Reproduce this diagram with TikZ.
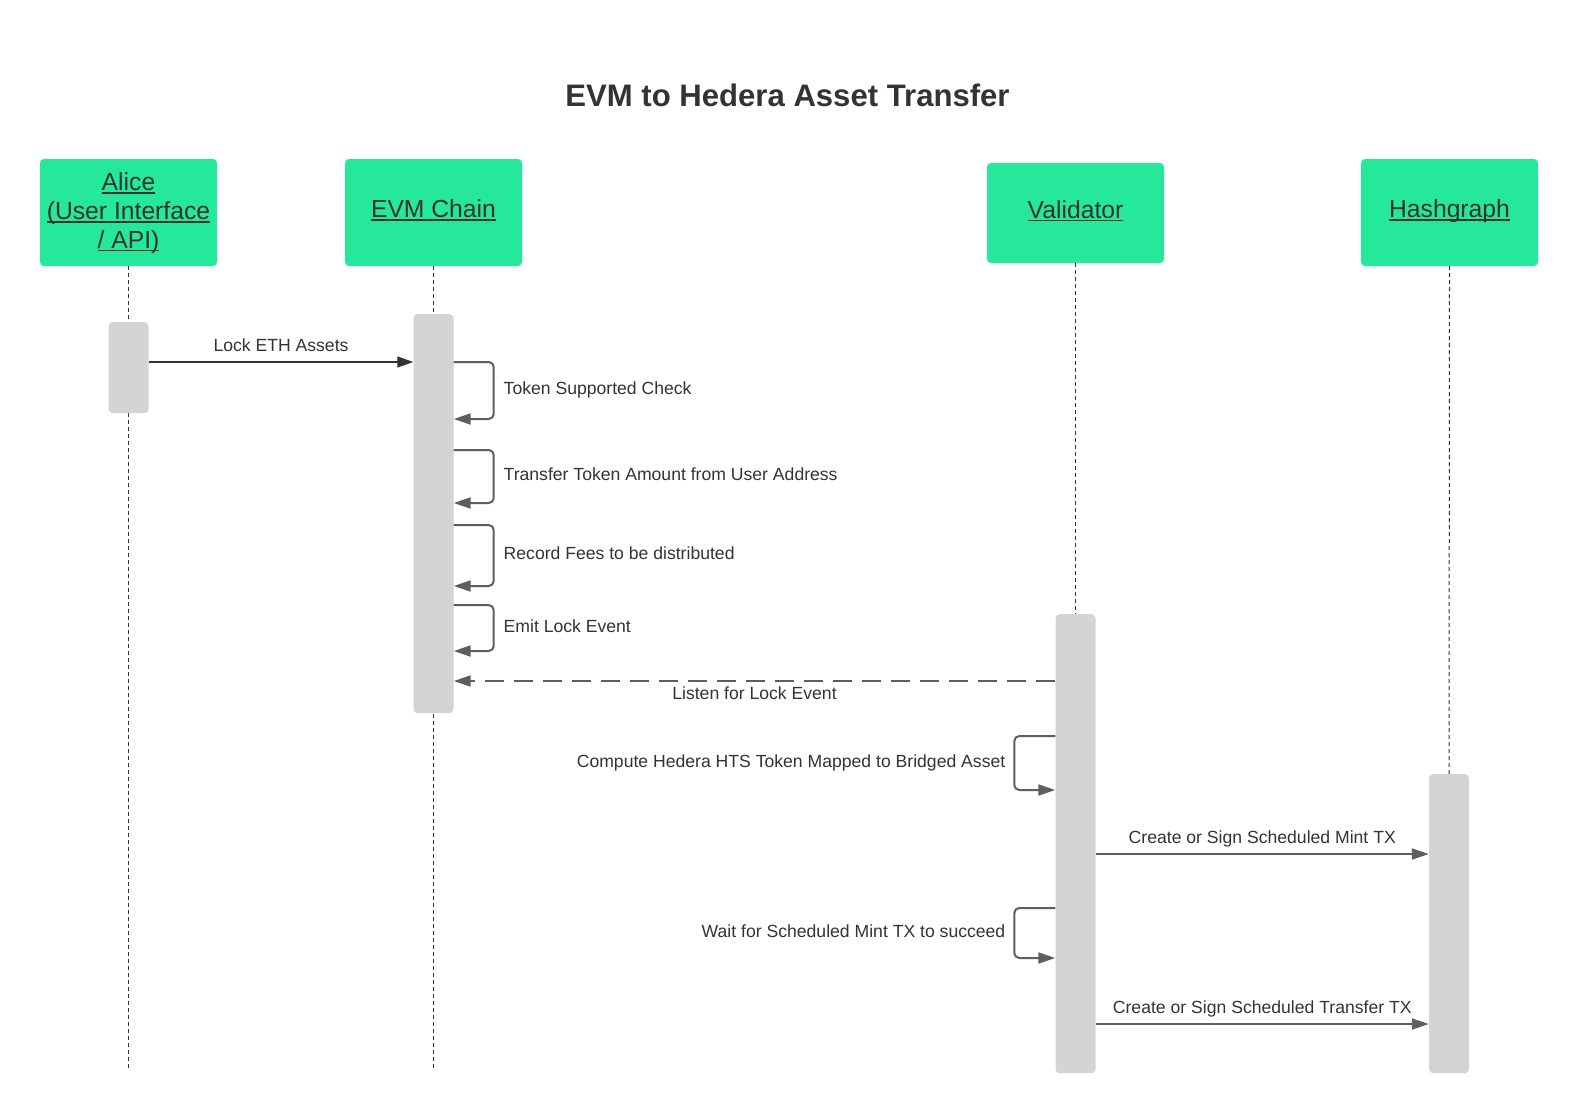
\documentclass[tikz,border=0pt]{standalone}
\usepackage{fontspec}
\setmainfont{Liberation Sans}
\usetikzlibrary{arrows.meta}
\definecolor{boxgreen}{RGB}{38,232,155}
\definecolor{txt}{RGB}{51,51,51}
\definecolor{actgray}{RGB}{212,212,212}
\definecolor{arrgray}{RGB}{94,94,94}
\newcommand\uln[1]{\setbox0=\hbox{#1}\rlap{\rule[-3pt]{\wd0}{1.6pt}}\box0}
\begin{document}
\begin{tikzpicture}[x=1pt,y=-1pt,
  participant/.style={fill=boxgreen, rounded corners=4pt, minimum width=177pt, inner sep=0pt, draw=none},
  ptext/.style={text=txt, font=\fontsize{24.7}{28.7}\selectfont, inner sep=0pt, align=center},
  activation/.style={fill=actgray, rounded corners=4pt, minimum width=40pt, anchor=north, inner sep=0pt},
  lifeline/.style={draw=txt, line width=1pt, dash pattern=on 4pt off 3pt},
  msgdark/.style={draw=txt, line width=1.3pt, -{Triangle[length=16pt,width=11pt]}},
  msggray/.style={draw=arrgray, line width=2pt, -{Triangle[length=17pt,width=11pt]}},
  selfloop/.style={draw=arrgray, line width=2pt, rounded corners=5pt, -{Triangle[length=17pt,width=11pt]}},
  replymsg/.style={draw=arrgray, line width=2pt, dash pattern=on 19pt off 10pt, -{Triangle[length=17pt,width=11pt]}},
  lbl/.style={text=txt, font=\fontsize{17.6}{20}\selectfont, inner sep=0pt},
  titlestyle/.style={text=txt, font=\fontsize{31.1}{34}\selectfont\bfseries, inner sep=0pt}
]
\useasboundingbox (0,0) rectangle (1578,1114);

% title
\node[titlestyle, anchor=base] (title) at (787.5,106) {EVM to Hedera Asset Transfer};

% participants
\node[participant, minimum height=107pt] (alice) at (128.5,212.5) {};
\node[participant, minimum height=107pt] (evm) at (433.5,212.5) {};
\node[participant, minimum height=100pt] (val) at (1075.5,213) {};
\node[participant, minimum height=107pt] (hash) at (1449.5,212.5) {};

\node[ptext, anchor=north] (alicet) at (128.5,172.8) {\uln{Alice}\\\uln{(User Interface}\\\uln{/ API)}};
\node[ptext, anchor=base] (evmt) at (433.5,217.7) {\uln{EVM Chain}};
\node[ptext, anchor=base] (valt) at (1075.5,218.2) {\uln{Validator}};
\node[ptext, anchor=base] (hasht) at (1449.5,217.7) {\uln{Hashgraph}};

% lifeline ends
\coordinate (aliceend) at (128.5,1070);
\coordinate (evmend) at (433.5,1070);

% activation positions
\path (128.5,322) coordinate (aliceacttop);
\path (433.5,314) coordinate (evmacttop);
\path (1075.5,614) coordinate (valacttop);
\path (1449,774) coordinate (hashacttop);

% lifelines
\draw[lifeline] (alice.south) -- (aliceend);
\draw[lifeline] (evm.south) -- (evmend);
\draw[lifeline] (val.south) -- (valacttop);
\draw[lifeline] (hash.south) -- (hashacttop);

% activation bars
\node[activation, minimum height=91pt] (aliceact) at (aliceacttop) {};
\node[activation, minimum height=399pt] (evmact) at (evmacttop) {};
\node[activation, minimum height=459pt] (valact) at (valacttop) {};
\node[activation, minimum height=299pt] (hashact) at (hashacttop) {};

% messages
\draw[msgdark] (aliceact.east |- 0,362) -- (evmact.west |- 0,362)
  node[lbl, midway, anchor=base, yshift=11pt] {Lock ETH Assets};

\draw[selfloop] (evmact.east |- 0,362) -- ++(40,0) -- ++(0,57)
  node[lbl, midway, anchor=base west, xshift=9pt, yshift=-4pt] {Token Supported Check}
  -- (evmact.east |- 0,419);
\draw[selfloop] (evmact.east |- 0,450) -- ++(40,0) -- ++(0,53)
  node[lbl, midway, anchor=base west, xshift=9pt, yshift=-4pt] {Transfer Token Amount from User Address}
  -- (evmact.east |- 0,503);
\draw[selfloop] (evmact.east |- 0,525) -- ++(40,0) -- ++(0,61)
  node[lbl, midway, anchor=base west, xshift=9pt, yshift=-4pt] {Record Fees to be distributed}
  -- (evmact.east |- 0,586);
\draw[selfloop] (evmact.east |- 0,605) -- ++(40,0) -- ++(0,46)
  node[lbl, midway, anchor=base west, xshift=9pt, yshift=-4pt] {Emit Lock Event}
  -- (evmact.east |- 0,651);

\draw[replymsg] (valact.west |- 0,681) -- (evmact.east |- 0,681)
  node[lbl, midway, anchor=base, yshift=-18pt] {Listen for Lock Event};

\draw[selfloop] (valact.west |- 0,736) -- ++(-41,0) -- ++(0,54)
  node[lbl, midway, anchor=base east, xshift=-8pt, yshift=-4pt] {Compute Hedera HTS Token Mapped to Bridged Asset}
  -- (valact.west |- 0,790);

\draw[msggray] (valact.east |- 0,854) -- (hashact.west |- 0,854)
  node[lbl, midway, anchor=base, yshift=11pt] {Create or Sign Scheduled Mint TX};

\draw[selfloop] (valact.west |- 0,908) -- ++(-41,0) -- ++(0,50)
  node[lbl, midway, anchor=base east, xshift=-8pt, yshift=-4pt] {Wait for Scheduled Mint TX to succeed}
  -- (valact.west |- 0,958);

\draw[msggray] (valact.east |- 0,1024) -- (hashact.west |- 0,1024)
  node[lbl, midway, anchor=base, yshift=11pt] {Create or Sign Scheduled Transfer TX};
\end{tikzpicture}
\end{document}
